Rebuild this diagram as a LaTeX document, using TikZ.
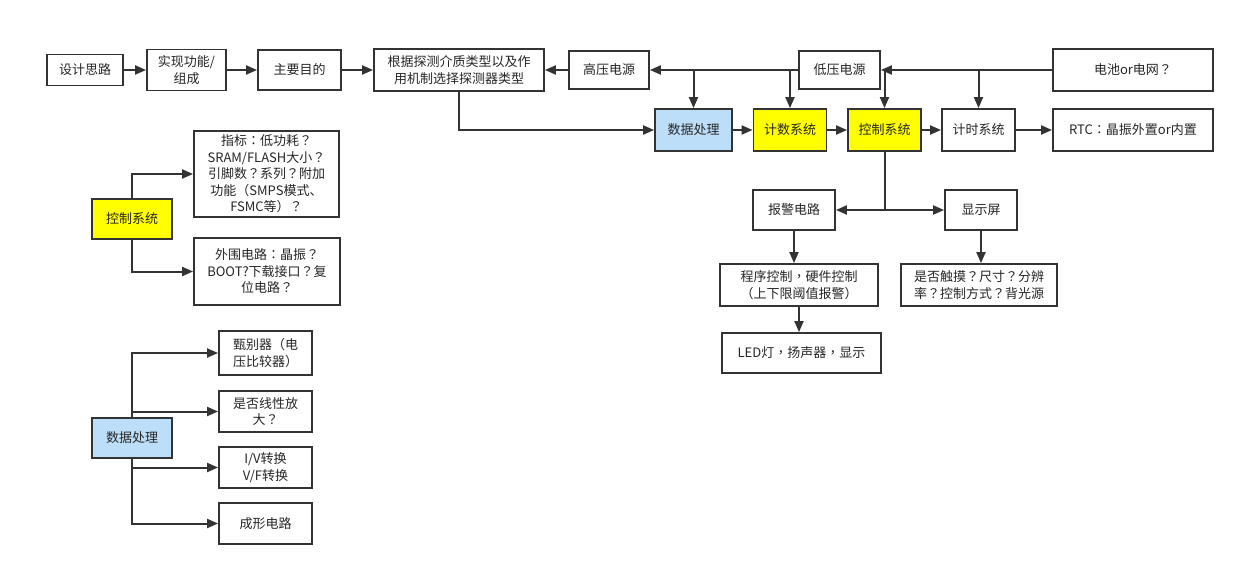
\documentclass[tikz,border=0pt]{standalone}
\usepackage{fontspec}
\setmainfont{Noto Sans CJK SC}
\newfontfamily\puncfont{Noto Sans CJK TC}
\newcommand\zwq{{\puncfont ？}}
\newcommand\zwc{{\puncfont ：}}
\newcommand\zwd{{\puncfont ，}}
\newcommand\zwl{{\puncfont （}}
\newcommand\zwr{{\puncfont ）}}
\usetikzlibrary{arrows.meta, positioning}
\definecolor{edgegray}{HTML}{333333}
\definecolor{procblue}{HTML}{BDDEF8}
\definecolor{ctrlyellow}{HTML}{FFFF00}
\tikzstyle{block} = [rectangle, draw=edgegray, line width=1.8pt, fill=white, text=black!85, align=center, inner sep=2pt, font=\fontsize{13}{16.5}\selectfont]
\tikzstyle{blueblock} = [block, fill=procblue]
\tikzstyle{yellowblock} = [block, fill=ctrlyellow]
\tikzstyle{line} = [draw=edgegray, line width=2pt, -{Triangle[length=11pt,width=9pt]}]

\begin{document}
\begin{tikzpicture}[x=1pt, y=-1pt]
    \useasboundingbox (0,0) rectangle (1243,575);
    % Place nodes: top row
    \node [block, minimum width=76pt, minimum height=31pt] (idea) at (85,70) {设计思路};
    \node [block, minimum width=79pt, minimum height=41pt] (func) at (186.5,70) {实现功能/\\组成};
    \node [block, minimum width=83pt, minimum height=40pt] (goal) at (299.5,70) {主要目的};
    \node [block, minimum width=170pt, minimum height=42pt] (detector) at (459,70) {根据探测介质类型以及作\\用机制选择探测器类型};
    \node [block, minimum width=80pt, minimum height=38pt] (hv) at (609,70) {高压电源};
    \node [block, minimum width=81pt, minimum height=38pt] (lv) at (839.5,70) {低压电源};
    \node [block, minimum width=160pt, minimum height=42pt] (supply) at (1133,70) {电池or电网\zwq};

    % Place nodes: second row
    \node [blueblock, minimum width=77pt, minimum height=42pt] (data) at (693.5,130) {数据处理};
    \node [yellowblock, minimum width=73pt, minimum height=42pt] (count) at (790,130) {计数系统};
    \node [yellowblock, minimum width=73pt, minimum height=42pt] (ctrl) at (884.5,130) {控制系统};
    \node [block, minimum width=73pt, minimum height=42pt] (timer) at (978.5,130) {计时系统};
    \node [block, minimum width=160pt, minimum height=42pt] (rtc) at (1133,130) {RTC\zwc 晶振外置or内置};

    % Place nodes: alarm and display
    \node [block, minimum width=82pt, minimum height=40pt] (alarm) at (794,210) {报警电路};
    \node [block, minimum width=72pt, minimum height=40pt] (screen) at (981,210) {显示屏};
    \node [block, minimum width=158pt, minimum height=42pt] (prog) at (799,285) {程序控制\zwd 硬件控制\\\zwl 上下限阈值报警\zwr};
    \node [block, minimum width=159pt, minimum height=40pt] (led) at (801.5,353) {LED灯\zwd 扬声器\zwd 显示};
    \node [block, minimum width=156pt, minimum height=42pt] (touch) at (979,285) {是否触摸\zwq 尺寸\zwq 分辨\\率\zwq 控制方式\zwq 背光源};

    % Place nodes: control system detail
    \node [yellowblock, minimum width=80pt, minimum height=40pt] (ctrlb) at (132,219) {控制系统};
    \node [block, minimum width=145pt, minimum height=86pt] (spec) at (266.5,174) {指标\zwc 低功耗\zwq\\SRAM/FLASH大小\zwq\\引脚数\zwq 系列\zwq 附加\\功能\zwl SMPS模式、\\FSMC等\zwr\zwq};
    \node [block, minimum width=146pt, minimum height=67pt] (periph) at (267,271.5) {外围电路\zwc 晶振\zwq\\BOOT?下载接口\zwq 复\\位电路\zwq};

    % Place nodes: data processing detail
    \node [blueblock, minimum width=80pt, minimum height=40pt] (datab) at (132,438) {数据处理};
    \node [block, minimum width=93pt, minimum height=44pt] (discr) at (265.5,353) {甄别器\zwl 电\\压比较器\zwr};
    \node [block, minimum width=93pt, minimum height=41pt] (linamp) at (265.5,411.5) {是否线性放\\大\zwq};
    \node [block, minimum width=93pt, minimum height=41pt] (conv) at (265.5,467.5) {I/V转换\\V/F转换};
    \node [block, minimum width=93pt, minimum height=41pt] (shape) at (265.5,523.5) {成形电路};

    % Draw edges
    \path [line] (idea) -- (func);
    \path [line] (func) -- (goal);
    \path [line] (goal) -- (detector);
    \path [line] (hv) -- (detector);
    \path [line] (lv) -- (hv);
    \path [line] (supply) -- (lv);
    \path [line] (data |- hv) -- (data);
    \path [line] (count |- hv) -- (count);
    \path [line] (ctrl |- supply) -- (ctrl);
    \path [line] (timer |- supply) -- (timer);
    \path [line] (detector.south) |- (data);
    \path [line] (data) -- (count);
    \path [line] (count) -- (ctrl);
    \path [line] (ctrl) -- (timer);
    \path [line] (timer) -- (rtc);
    \path [line] (ctrl.south) |- (alarm);
    \path [line] (ctrl.south) |- (screen);
    \path [line] (alarm) -- (alarm |- prog.north);
    \path [line] (prog) -- (prog |- led.north);
    \path [line] (screen) -- (screen |- touch.north);
    \path [line] (ctrlb.north) |- (spec);
    \path [line] (ctrlb.south) |- (periph);
    \path [line] (datab.north) |- (discr);
    \path [line] (datab.north) |- (linamp);
    \path [line] (datab.south) |- (conv);
    \path [line] (datab.south) |- (shape);
\end{tikzpicture}
\end{document}
